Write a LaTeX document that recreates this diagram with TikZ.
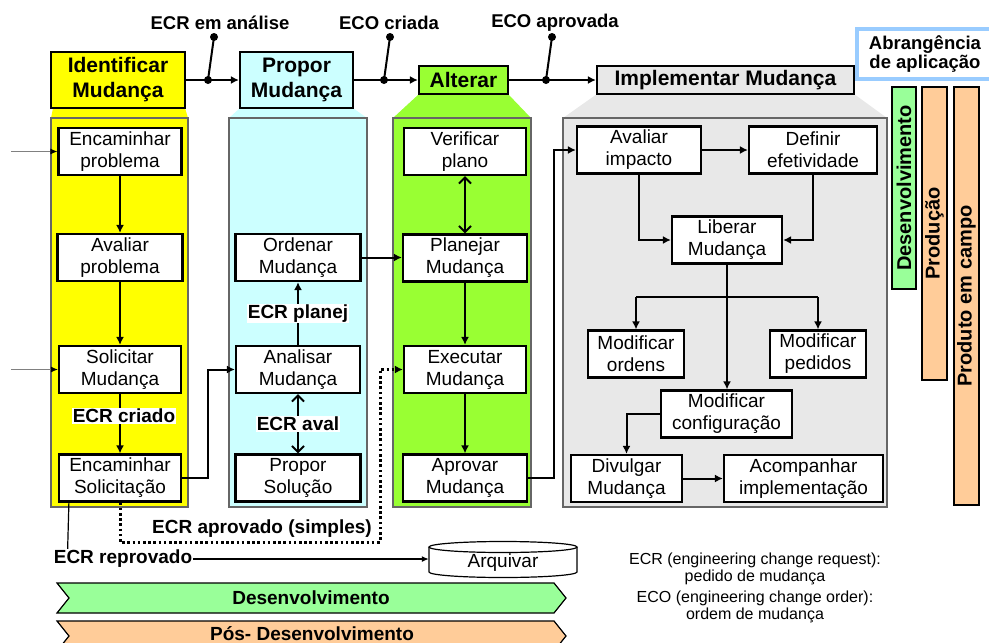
\documentclass[tikz,border=0pt]{standalone}
\usepackage{fontspec}
\setmainfont{Liberation Sans}
\usepackage{xcolor}
\usepackage{tikz}
\usetikzlibrary{arrows.meta, positioning}

\definecolor{amarelo}{HTML}{FFFF00}
\definecolor{ciano}{HTML}{CCFFFF}
\definecolor{verde}{HTML}{99FF33}
\definecolor{cinza}{HTML}{E8E8E8}
\definecolor{verdeclaro}{HTML}{99FF99}
\definecolor{pessego}{HTML}{FFCC99}
\definecolor{azulborda}{HTML}{99CCFF}

\tikzset{
  task/.style={draw, line width=2.2pt, fill=white, align=center, inner sep=0pt,
    minimum height=47pt, font=\fontsize{19}{22}\selectfont},
  phase/.style={draw, line width=2.2pt, align=center, inner sep=0pt,
    font=\bfseries\fontsize{21}{25}\selectfont},
  column/.style={draw=black!60, line width=1.2pt},
  flow/.style={line width=2pt, -{Latex[length=8pt,width=8pt]}},
  twoway/.style={line width=2pt,
    {Straight Barb[length=6pt,width=12pt]}-{Straight Barb[length=6pt,width=12pt]}},
  tag/.style={font=\bfseries\fontsize{19}{22}\selectfont, inner sep=1pt},
  toplabel/.style={font=\bfseries\fontsize{18.5}{20}\selectfont, inner sep=0pt},
  scopebar/.style={draw, line width=1.2pt, rotate=90, inner sep=0pt,
    font=\bfseries\fontsize{20}{22}\selectfont},
  note/.style={align=center, inner sep=0pt, font=\fontsize{16}{17}\selectfont}
}

\begin{document}
\begin{tikzpicture}[x=1pt, y=-1pt]
        \useasboundingbox (0,0) rectangle (989,643);
        \clip (0,0) rectangle (989,643);

        % Add the columns behind the phases
        \fill[amarelo] (53,108) -- (185,108) -- (188,118) -- (51,118) -- cycle;
        \draw[column, fill=amarelo] (51,118) rectangle (188,507);
        \fill[ciano] (240,108) -- (353,108) -- (367,118) -- (229,118) -- cycle;
        \draw[column, fill=ciano] (229,118) rectangle (367,507);
        \fill[verde] (419,94) -- (508,94) -- (531,118) -- (393,118) -- cycle;
        \draw[column, fill=verde] (393,118) rectangle (531,507);
        \fill[cinza] (597,94) -- (854,94) -- (887,118) -- (563,118) -- cycle;
        \draw[column, fill=cinza] (563,118) rectangle (887,507);

        % Add the phases
        \node[phase, fill=amarelo, minimum width=134pt, minimum height=56pt] (ident) at (118,80) {Identificar\\Mudança};
        \node[phase, fill=ciano, minimum width=113pt, minimum height=56pt] (propor) at (296.5,80) {Propor\\Mudança};
        \node[phase, fill=verde, minimum width=89pt, minimum height=28pt] (alterar) at (463.5,80) {Alterar};
        \node[phase, fill=cinza, minimum width=257pt, minimum height=28pt] (implem) at (725.5,80) {Implementar Mudança};

        % Connect the phases, with the switches
        \draw[flow] (ident) -- (propor);
        \draw[flow] (propor) -- (alterar);
        \draw[flow] (alterar) -- (implem);
        \foreach \sx in {208, 384, 546} {
            \fill (\sx,80) circle[radius=4];
            \draw[line width=2pt] (\sx,80) -- (\sx+6,37);
            \fill (\sx+6,37) circle[radius=4];
        }
        \node[toplabel] (ecranalise) at (220,23) {ECR em análise};
        \node[toplabel] (ecocriada) at (389,23) {ECO criada};
        \node[toplabel] (ecoaprov) at (555,23) {ECO aprovada};

        % Add the tasks
        \node[task, minimum width=123pt] (encprob) at (120,151.5) {Encaminhar\\problema};
        \node[task, minimum width=125pt] (avalprob) at (120,257.5) {Avaliar\\problema};
        \node[task, minimum width=122pt] (solic) at (120,369.5) {Solicitar\\Mudança};
        \node[task, minimum width=122pt] (encsol) at (120,478) {Encaminhar\\Solicitação};

        \node[task, minimum width=125pt] (ordenar) at (298,257.5) {Ordenar\\Mudança};
        \node[task, minimum width=124pt] (analisar) at (298,369.5) {Analisar\\Mudança};
        \node[task, minimum width=125pt] (propsol) at (298,478) {Propor\\Solução};

        \node[task, minimum width=122pt] (verif) at (465,151.5) {Verificar\\plano};
        \node[task, minimum width=124pt] (planejar) at (465,258) {Planejar\\Mudança};
        \node[task, minimum width=122pt] (executar) at (465,369.5) {Executar\\Mudança};
        \node[task, minimum width=124pt] (aprovar) at (465,478) {Aprovar\\Mudança};

        \node[task, minimum width=124pt] (avimp) at (639,150) {Avaliar\\impacto};
        \node[task, minimum width=128pt] (defef) at (813,150) {Definir\\efetividade};
        \node[task, minimum width=110pt] (liberar) at (727,240) {Liberar\\Mudança};
        \node[task, minimum width=96pt] (modord) at (636,354) {Modificar\\ordens};
        \node[task, minimum width=96pt] (modped) at (818,354) {Modificar\\pedidos};
        \node[task, minimum width=131pt] (modconf) at (726.5,414) {Modificar\\configuração};
        \node[task, minimum width=111pt] (divulgar) at (626.5,478.5) {Divulgar\\Mudança};
        \node[task, minimum width=159pt] (acomp) at (803.5,478.5) {Acompanhar\\implementação};

        % Connect the tasks with arrows
        \coordinate (in1) at (11,151.5);
        \coordinate (in2) at (11,369.5);
        \draw[gray, line width=1pt, -{Latex[length=7pt,width=6pt,color=black]}] (in1) -- (encprob.west);
        \draw[gray, line width=1pt, -{Latex[length=7pt,width=6pt,color=black]}] (in2) -- (solic.west);
        \draw[flow] (encprob) -- (avalprob);
        \draw[flow] (avalprob) -- (solic);
        \draw[flow] (solic) -- (encsol);
        \node[tag, fill=white] (ecrcriado) at (124,416) {ECR criado};
        \draw[flow] (encsol.east) -- ++(26,0) |- (analisar.west);
        \draw[flow] (analisar) -- node[tag, fill=white] (ecrplanej) {ECR planej} (ordenar);
        \draw[twoway] (analisar) -- node[tag, fill=white] (ecraval) {ECR aval} (propsol);
        \draw[flow] (ordenar.east) -- (ordenar.east -| planejar.west);
        \draw[twoway] (verif) -- (planejar);
        \draw[flow] (planejar) -- (executar);
        \draw[flow] (executar) -- (aprovar);
        \draw[flow] (aprovar.east) -- ++(25.5,0) |- (avimp.west);
        \draw[flow] (avimp) -- (defef);
        \draw[flow] (avimp.south) |- (liberar.west);
        \draw[flow] (defef.south) |- (liberar.east);
        \draw[flow] (liberar.south) -- (liberar.south |- modconf.north);
        \coordinate (ramo) at (727,297);
        \draw[line width=2pt] (modord.north |- ramo) -- (modped.north |- ramo);
        \draw[flow] (modord.north |- ramo) -- (modord.north);
        \draw[flow] (modped.north |- ramo) -- (modped.north);
        \draw[flow] (modconf.west) -| (divulgar.north);
        \draw[flow] (divulgar) -- (acomp);

        % Approved and rejected requests
        \coordinate (dotturn) at (380,542);
        \draw[line width=3pt, dash pattern=on 2.6pt off 2.6pt, -{Latex[length=8pt,width=8pt]}]
            (encsol.south) |- (dotturn) |- (executar.west);
        \node[tag] (ecraprov) at (262,529) {ECR aprovado (simples)};
        \node[tag] (reprov) at (123,559) {ECR reprovado};
        \draw[line width=1.2pt] ([xshift=11pt]encsol.south west) -- ([xshift=15pt]reprov.north west);
        \draw[line width=1.2pt, fill=white] (429,547) -- (429,572)
            arc[start angle=180, end angle=0, x radius=74, y radius=5.5] -- (577,547);
        \draw[line width=1.2pt, fill=white] (503,547) ellipse[x radius=74, y radius=5.5];
        \node[minimum width=148pt, minimum height=35pt, inner sep=0pt,
            font=\fontsize{19}{22}\selectfont] (arq) at (503,563) {Arquivar};
        \draw[line width=1.2pt, -{Latex[length=7pt,width=6pt]}] (reprov.east) -- (arq.west |- reprov.east);

        % Scope of application
        \node[draw=azulborda, line width=3.5pt, fill=white, minimum width=136pt, minimum height=50pt,
            align=center, inner sep=0pt, font=\bfseries\fontsize{18.5}{19.5}\selectfont] (abrang) at (925,54) {Abrangência\\de aplicação};
        \node[scopebar, fill=verdeclaro, minimum width=202pt, minimum height=24pt] (escdes) at (904,188) {Desenvolvimento};
        \node[scopebar, fill=pessego, minimum width=293pt, minimum height=25pt] (escprod) at (934.5,233.5) {Produção};
        \node[scopebar, fill=pessego, minimum width=418pt, minimum height=25pt] (esccampo) at (966.5,296) {Produto em campo};

        % Development bands
        \draw[fill=verdeclaro, line width=1.2pt] (57,583) -- (554,583) -- (566,598) -- (554,613) -- (57,613) -- (69,598) -- cycle;
        \node[tag] (fasedes) at (311,598) {Desenvolvimento};
        \draw[fill=pessego, line width=1.2pt] (57,621) -- (554,621) -- (566,636) -- (554,651) -- (57,651) -- (69,636) -- cycle;
        \node[tag] (fasepos) at (312,634) {Pós- Desenvolvimento};

        % Notes
        \node[note] (ecrnota) at (755,568.5) {ECR (engineering change request):\\pedido de mudança};
        \node[note] (econota) at (755,607) {ECO (engineering change order):\\ordem de mudança};
    \end{tikzpicture}
\end{document}
